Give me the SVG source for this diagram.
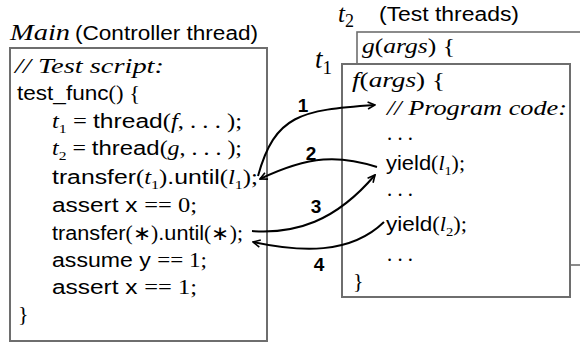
<svg xmlns="http://www.w3.org/2000/svg" width="580" height="343" viewBox="0 0 580 343">
<defs>
<style>
.sf{font-family:"Liberation Sans",Arial,sans-serif}
.rm{font-family:"Liberation Serif","Times New Roman",serif}
.mi{font-family:"Liberation Serif","Times New Roman",serif;font-style:italic}
.sub{font-family:"Liberation Serif","Times New Roman",serif;font-size:13px}
text{font-size:20px;fill:#000}
.box{fill:#fff;stroke:#6e6e6e;stroke-width:2}
.arr{fill:none;stroke:#000;stroke-width:2;marker-end:url(#ah)}
.num{font-family:"Liberation Sans",Arial,sans-serif;font-weight:bold;font-size:19px;text-anchor:middle}
</style>
<marker id="ah" viewBox="0 0 10 10" refX="9" refY="5" markerWidth="9" markerHeight="9" markerUnits="userSpaceOnUse" orient="auto">
<path d="M1,1 L9,5 L1,9" fill="none" stroke="#000" stroke-width="1.8"/>
</marker>
</defs>
<rect width="580" height="343" fill="#fff"/>

<g id="main">
<text x="10" y="40" class="mi" style="font-size:23px" textLength="60" lengthAdjust="spacingAndGlyphs">Main</text>
<text x="75" y="40" class="sf" style="font-size:20px" textLength="183" lengthAdjust="spacingAndGlyphs">(Controller thread)</text>
<rect class="box" x="10" y="48" width="257" height="293"/>
<text x="15" y="73" class="mi" textLength="149" lengthAdjust="spacingAndGlyphs">// Test script:</text>
<text x="17" y="100" textLength="123" lengthAdjust="spacingAndGlyphs"><tspan class="sf">test_func</tspan><tspan class="rm">() {</tspan></text>
<text x="52" y="128" textLength="190" lengthAdjust="spacingAndGlyphs"><tspan class="mi">t</tspan><tspan class="sub" dy="5">1</tspan><tspan class="rm" dy="-5"> = </tspan><tspan class="sf">thread</tspan><tspan class="rm">(</tspan><tspan class="mi">f</tspan><tspan class="rm">, . . . );</tspan></text>
<text x="52" y="155" textLength="190" lengthAdjust="spacingAndGlyphs"><tspan class="mi">t</tspan><tspan class="sub" dy="5">2</tspan><tspan class="rm" dy="-5"> = </tspan><tspan class="sf">thread</tspan><tspan class="rm">(</tspan><tspan class="mi">g</tspan><tspan class="rm">, . . . );</tspan></text>
<text x="52" y="184" textLength="206" lengthAdjust="spacingAndGlyphs"><tspan class="sf">transfer</tspan><tspan class="rm">(</tspan><tspan class="mi">t</tspan><tspan class="sub" dy="5">1</tspan><tspan class="rm" dy="-5">)</tspan><tspan class="sf">.until</tspan><tspan class="rm">(</tspan><tspan class="mi">l</tspan><tspan class="sub" dy="5">1</tspan><tspan class="rm" dy="-5">);</tspan></text>
<text x="52" y="212" textLength="145" lengthAdjust="spacingAndGlyphs"><tspan class="sf">assert x </tspan><tspan class="rm">== 0;</tspan></text>
<text x="52" y="240" textLength="191" lengthAdjust="spacingAndGlyphs"><tspan class="sf">transfer</tspan><tspan class="rm">(∗)</tspan><tspan class="sf">.until</tspan><tspan class="rm">(∗);</tspan></text>
<text x="52" y="267" textLength="155" lengthAdjust="spacingAndGlyphs"><tspan class="sf">assume y </tspan><tspan class="rm">== 1;</tspan></text>
<text x="52" y="294" textLength="145" lengthAdjust="spacingAndGlyphs"><tspan class="sf">assert x </tspan><tspan class="rm">== 1;</tspan></text>
<text x="18" y="321" class="rm" style="font-size:22px">}</text>
</g>

<g id="t2">
<text x="338" y="22"><tspan class="mi" style="font-size:25px">t</tspan><tspan class="rm" style="font-size:18px" dy="5">2</tspan></text>
<text x="379" y="21" class="sf" style="font-size:20px" textLength="140" lengthAdjust="spacingAndGlyphs">(Test threads)</text>
<rect class="box" x="357" y="32" width="260" height="233" style="stroke-width:1.6"/>
<text x="362" y="53" textLength="93" lengthAdjust="spacingAndGlyphs"><tspan class="mi">g</tspan><tspan class="rm">(</tspan><tspan class="mi">args</tspan><tspan class="rm">) {</tspan></text>
</g>

<g id="t1">
<text x="315" y="68"><tspan class="mi" style="font-size:27px">t</tspan><tspan class="rm" style="font-size:19px" dy="6">1</tspan></text>
<rect class="box" x="342" y="64" width="228" height="233"/>
<text x="352" y="87" textLength="93" lengthAdjust="spacingAndGlyphs"><tspan class="mi">f</tspan><tspan class="rm">(</tspan><tspan class="mi">args</tspan><tspan class="rm">) {</tspan></text>
<text x="387" y="115" class="mi" textLength="180" lengthAdjust="spacingAndGlyphs">// Program code:</text>
<text x="387" y="140" class="rm" textLength="26" lengthAdjust="spacingAndGlyphs">. . .</text>
<text x="386" y="170" textLength="79" lengthAdjust="spacingAndGlyphs"><tspan class="sf">yield</tspan><tspan class="rm">(</tspan><tspan class="mi">l</tspan><tspan class="sub" dy="5">1</tspan><tspan class="rm" dy="-5">);</tspan></text>
<text x="387" y="196" class="rm" textLength="26" lengthAdjust="spacingAndGlyphs">. . .</text>
<text x="386" y="231" textLength="81" lengthAdjust="spacingAndGlyphs"><tspan class="sf">yield</tspan><tspan class="rm">(</tspan><tspan class="mi">l</tspan><tspan class="sub" dy="5">2</tspan><tspan class="rm" dy="-5">);</tspan></text>
<text x="387" y="261" class="rm" textLength="26" lengthAdjust="spacingAndGlyphs">. . .</text>
<text x="353" y="288" class="rm" style="font-size:22px">}</text>
</g>

<g id="connectors">
<path class="arr" d="M258,176 C275,115 300,110 375,105"/>
<path class="arr" d="M377,167 C340,155 310,155 260,179"/>
<path class="arr" d="M252,231 C295,234 335,222 375,175"/>
<path class="arr" d="M384,222 C350,255 300,252 253,242"/>
<text class="num" x="303" y="112">1</text>
<text class="num" x="311" y="160">2</text>
<text class="num" x="316" y="213">3</text>
<text class="num" x="319" y="271">4</text>
</g>
</svg>
